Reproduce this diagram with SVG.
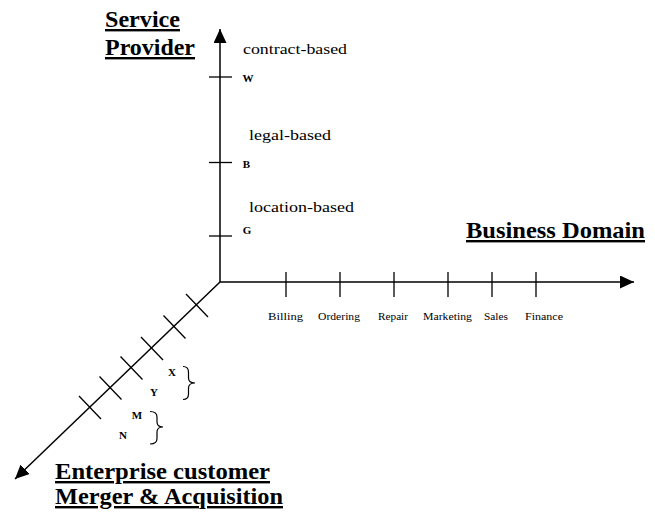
<svg xmlns="http://www.w3.org/2000/svg" width="655" height="512" viewBox="0 0 655 512">
<style>
.axis{stroke:#000;stroke-width:1.5;fill:none}
.tick{stroke:#000;stroke-width:1.3;fill:none}
.brace{stroke:#000;stroke-width:1.2;fill:none}
text{font-family:"Liberation Serif","Times New Roman","DejaVu Serif",serif;fill:#000}
.title{font-weight:bold;font-size:24px;text-decoration:underline}
.lbl{font-size:14px}
.dom{font-size:11px}
.let{font-weight:bold;font-size:11px;text-anchor:middle}
</style>
<defs>
<marker id="arr" markerUnits="userSpaceOnUse" markerWidth="16" markerHeight="16" refX="14" refY="6.5" orient="auto">
<path d="M0,0 L14,6.5 L0,13 z" fill="#000"/>
</marker>
</defs>
<rect width="655" height="512" fill="#fff"/>
<g id="connectors">
<line class="axis" x1="220" y1="282" x2="220" y2="29" marker-end="url(#arr)"/>
<line class="axis" x1="220" y1="282" x2="634" y2="282" marker-end="url(#arr)"/>
<line class="axis" x1="220" y1="282" x2="15" y2="479" marker-end="url(#arr)"/>
</g>
<g id="service-provider-axis">
<text class="title" x="105" y="27" textLength="75" lengthAdjust="spacingAndGlyphs">Service</text>
<text class="title" x="105" y="55" textLength="90" lengthAdjust="spacingAndGlyphs">Provider</text>
<line class="tick" x1="209" y1="77" x2="232" y2="77"/>
<line class="tick" x1="209" y1="162.5" x2="232" y2="162.5"/>
<line class="tick" x1="209" y1="236" x2="232" y2="236"/>
<text class="lbl" x="243" y="54" textLength="104" lengthAdjust="spacingAndGlyphs">contract-based</text>
<text class="lbl" x="249" y="140" textLength="82" lengthAdjust="spacingAndGlyphs">legal-based</text>
<text class="lbl" x="249" y="212" textLength="105" lengthAdjust="spacingAndGlyphs">location-based</text>
<text class="let" x="248" y="82">W</text>
<text class="let" x="246.5" y="168">B</text>
<text class="let" x="247" y="234">G</text>
</g>
<g id="business-domain-axis">
<text class="title" x="466" y="238" textLength="179" lengthAdjust="spacingAndGlyphs">Business Domain</text>
<line class="tick" x1="286" y1="272" x2="286" y2="297"/>
<line class="tick" x1="340" y1="272" x2="340" y2="297"/>
<line class="tick" x1="394" y1="272" x2="394" y2="297"/>
<line class="tick" x1="448" y1="272" x2="448" y2="297"/>
<line class="tick" x1="492" y1="272" x2="492" y2="297"/>
<line class="tick" x1="536" y1="272" x2="536" y2="297"/>
<text class="dom" x="268" y="320" textLength="35" lengthAdjust="spacingAndGlyphs">Billing</text>
<text class="dom" x="318" y="320" textLength="42" lengthAdjust="spacingAndGlyphs">Ordering</text>
<text class="dom" x="378" y="320" textLength="30" lengthAdjust="spacingAndGlyphs">Repair</text>
<text class="dom" x="423" y="320" textLength="49" lengthAdjust="spacingAndGlyphs">Marketing</text>
<text class="dom" x="484" y="320" textLength="24" lengthAdjust="spacingAndGlyphs">Sales</text>
<text class="dom" x="525" y="320" textLength="38" lengthAdjust="spacingAndGlyphs">Finance</text>
</g>
<g id="enterprise-customer-axis">
<line class="tick" x1="186" y1="294" x2="208" y2="317"/>
<line class="tick" x1="163.5" y1="315.5" x2="185.5" y2="338.5"/>
<line class="tick" x1="141" y1="337" x2="163" y2="360"/>
<line class="tick" x1="120.5" y1="356.5" x2="142.5" y2="379.5"/>
<line class="tick" x1="99.5" y1="376.5" x2="121.5" y2="399.5"/>
<line class="tick" x1="79" y1="396" x2="101" y2="419"/>
<text class="let" x="172" y="375.5">X</text>
<text class="let" x="154" y="396">Y</text>
<text class="let" x="137" y="419">M</text>
<text class="let" x="123" y="439">N</text>
<path class="brace" d="M183,366.5 Q188.5,366.5 188.5,372 L188.5,378 Q188.5,383 195,383 Q188.5,383 188.5,388 L188.5,394 Q188.5,399.5 183,399.5"/>
<path class="brace" d="M150,411.5 Q157,411.5 157,417 L157,422 Q157,427 163,427 Q157,427 157,432 L157,438.5 Q157,444 150,444"/>
<text class="title" x="55" y="479" textLength="215" lengthAdjust="spacingAndGlyphs">Enterprise customer</text>
<text class="title" x="55" y="504" textLength="228" lengthAdjust="spacingAndGlyphs">Merger &amp; Acquisition</text>
</g>
</svg>
